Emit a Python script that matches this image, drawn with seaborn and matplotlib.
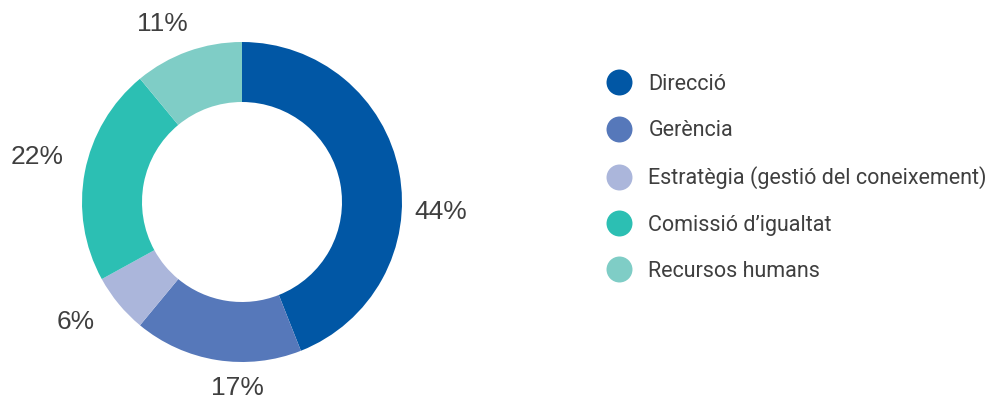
import matplotlib
matplotlib.use("Agg")
import matplotlib.pyplot as plt
from matplotlib.lines import Line2D
import seaborn as sns

# Data
categories = [
    "Direcció",
    "Gerència",
    "Estratègia (gestió del coneixement)",
    "Comissió d\u2019igualtat",
    "Recursos humans",
]
shares = [44, 17, 6, 22, 11]
colors = ["#0157A5", "#5678BA", "#ABB6DB", "#2CBFB3", "#7FCDC6"]

# Where each percentage label sits, in units of the outer radius
label_pos = [(1.24, -0.06), (-0.03, -1.16), (-1.04, -0.75), (-1.28, 0.28), (-0.5, 1.11)]

sns.set_theme(style="white")
plt.rcParams["font.family"] = ["Liberation Sans", "DejaVu Sans"]
palette = sns.color_palette(colors)

W, H = 996, 398
fig = plt.figure(figsize=(W / 100, H / 100), dpi=100)
fig.patch.set_facecolor("white")

# Donut axes: outer radius 160 px, centred at (242, 202) px
ax = fig.add_axes([82 / W, 36 / H, 320 / W, 320 / H])
ax.pie(
    shares,
    colors=palette,
    startangle=90,
    counterclock=False,
    radius=1.0,
    wedgeprops=dict(width=0.375, linewidth=0),
)
ax.set_xlim(-1, 1)
ax.set_ylim(-1, 1)
ax.set_aspect("equal")
ax.axis("off")

text_color = "#3f3f3f"
for v, (x, y) in zip(shares, label_pos):
    ax.text(x, y, f"{v}%", ha="center", va="center", fontsize=19,
            color=text_color, clip_on=False)

# Legend with round markers
handles = [
    Line2D([], [], marker="o", linestyle="", markersize=18.7,
           markerfacecolor=c, markeredgewidth=0)
    for c in palette
]
leg_size = 15.5
leg = fig.legend(
    handles, categories,
    loc="upper left",
    bbox_to_anchor=(608 / W, 1 - 74 / H),
    frameon=False,
    labelspacing=1.17,
    handlelength=1.02,
    handletextpad=0.85,
    borderpad=0,
    borderaxespad=0,
    prop={"family": ["Roboto", "DejaVu Sans"], "size": leg_size},
)
for t in leg.get_texts():
    t.set_color(text_color)

fig.savefig("out.png", dpi=100, facecolor="white")
